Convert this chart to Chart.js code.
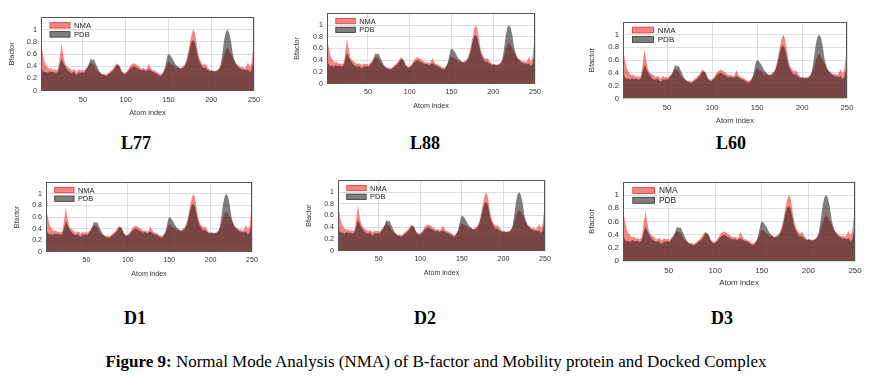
<!DOCTYPE html>
<html><head><meta charset="utf-8">
<script src="https://cdn.jsdelivr.net/npm/chart.js@4"></script>
<style>
html,body{margin:0;padding:0;background:#fff;width:871px;height:381px;overflow:hidden;}
#wrap{position:relative;width:871px;height:381px;}
canvas{position:absolute;}
.lbl{position:absolute;transform:translate(-50%,-50%);font-family:"Liberation Serif","Times New Roman",serif;font-weight:bold;font-size:18px;color:#000;white-space:nowrap;}
#cap{position:absolute;left:436px;top:362px;transform:translate(-50%,-50%);font-family:"Liberation Serif","Times New Roman",serif;font-size:17px;white-space:nowrap;color:#000;}
</style></head><body><div id="wrap"></div>
<script>
// ---- data (same profile in every panel) ----
const seriesNames = ['NMA', 'PDB'];
const panelNames = ['L77', 'L88', 'L60', 'D1', 'D2', 'D3'];
const xTickLabels = [50, 100, 150, 200, 250];
const yTickLabels = [0, 0.2, 0.4, 0.6, 0.8, 1];
const nmaValues = [
  0.78,0.62,0.48,0.42,0.38,0.36,0.37,0.34,0.35,0.33,
  0.36,0.55,0.77,0.58,0.45,0.40,0.38,0.36,0.33,0.35,
  0.34,0.31,0.35,0.33,0.34,0.32,0.36,0.38,0.42,0.46,
  0.44,0.42,0.36,0.33,0.30,0.29,0.27,0.28,0.26,0.28,
  0.31,0.33,0.36,0.40,0.45,0.42,0.38,0.32,0.30,0.29,
  0.31,0.35,0.40,0.43,0.45,0.44,0.42,0.40,0.38,0.36,
  0.37,0.35,0.36,0.44,0.38,0.34,0.33,0.32,0.30,0.28,
  0.27,0.29,0.33,0.38,0.46,0.47,0.44,0.42,0.40,0.37,
  0.39,0.36,0.38,0.40,0.43,0.50,0.62,0.78,0.92,1.00,
  0.94,0.76,0.58,0.50,0.45,0.42,0.44,0.40,0.36,0.33,
  0.32,0.33,0.31,0.34,0.36,0.40,0.48,0.58,0.66,0.70,
  0.66,0.60,0.55,0.50,0.44,0.42,0.40,0.38,0.39,0.36,
  0.40,0.46,0.38,0.45,0.70
];
const pdbValues = [
  0.42,0.33,0.30,0.31,0.29,0.32,0.30,0.31,0.30,0.29,
  0.32,0.42,0.53,0.46,0.40,0.36,0.32,0.30,0.29,0.31,
  0.28,0.26,0.30,0.29,0.30,0.29,0.33,0.37,0.44,0.52,
  0.50,0.51,0.44,0.38,0.32,0.28,0.26,0.25,0.24,0.26,
  0.28,0.30,0.33,0.36,0.41,0.43,0.40,0.32,0.28,0.27,
  0.29,0.32,0.36,0.38,0.40,0.39,0.37,0.36,0.34,0.33,
  0.34,0.32,0.33,0.35,0.33,0.31,0.30,0.29,0.27,0.25,
  0.24,0.27,0.33,0.45,0.58,0.60,0.56,0.52,0.46,0.42,
  0.39,0.37,0.36,0.37,0.40,0.46,0.56,0.70,0.80,0.83,
  0.78,0.65,0.52,0.45,0.40,0.37,0.38,0.35,0.33,0.32,
  0.34,0.31,0.33,0.32,0.35,0.42,0.60,0.82,0.96,1.00,
  0.95,0.82,0.62,0.50,0.44,0.40,0.37,0.36,0.34,0.35,
  0.33,0.35,0.30,0.33,0.46
];
const atomIndex = nmaValues.map((_, i) => 1 + 2 * i);

// ---- layout (page pixel positions of each panel's plot box) ----
const panelBoxes = [
  {l:41,  r:254, t:17,  b:91,  ty:12,  lx:136, ly:143},
  {l:327, r:535, t:13,  b:84,  ty:297, lx:425, ly:143},
  {l:623, r:847, t:21,  b:98,  ty:592, lx:731, ly:143},
  {l:46,  r:252, t:182, b:252, ty:17,  lx:135, ly:318},
  {l:338, r:545, t:180, b:251, ty:309, lx:425, ly:318},
  {l:623, r:855, t:181, b:261, ty:592, lx:722, ly:318}
];
const NMA_FILL = 'rgba(240,30,30,0.55)';
const PDB_FILL = 'rgba(20,20,20,0.55)';

const innerLegend = {
  id: 'innerLegend',
  afterDraw(chart, args, opts) {
    const {ctx, chartArea: a} = chart;
    const s = opts.fs / 7.3;
    ctx.save();
    ctx.strokeStyle = '#555';
    ctx.lineWidth = 1;
    ctx.strokeRect(Math.round(a.left) + 0.5, Math.round(a.top) + 0.5,
                   Math.round(a.right) - Math.round(a.left) - 1, Math.round(a.bottom) - Math.round(a.top) - 1);
    const items = [
      {name: seriesNames[0], fill: NMA_FILL, stroke: 'rgba(225,40,40,0.9)'},
      {name: seriesNames[1], fill: PDB_FILL, stroke: '#333'}
    ];
    const sx = a.left + 9 * s, sw = 20 * s, sh = 5.5 * s;
    items.forEach((it, i) => {
      const cy = a.top + 8 * s + i * 9 * s;
      ctx.fillStyle = '#fff';
      ctx.fillRect(sx, cy - sh / 2, sw, sh);
      ctx.fillStyle = it.fill;
      ctx.fillRect(sx, cy - sh / 2, sw, sh);
      ctx.strokeStyle = it.stroke;
      ctx.lineWidth = 0.8;
      ctx.strokeRect(sx, cy - sh / 2, sw, sh);
      ctx.fillStyle = '#222';
      ctx.font = (opts.fs * 1.05) + 'px "Liberation Sans", Arial, sans-serif';
      ctx.textBaseline = 'middle';
      ctx.textAlign = 'left';
      ctx.fillText(it.name, sx + sw + 4 * s, cy + 0.5);
    });
    ctx.restore();
  }
};

const wrap = document.getElementById('wrap');
panelBoxes.forEach((p, k) => {
  const fs = 7.3 * (p.r - p.l) / 213;
  const lh = fs * 1.2;
  const yW = (p.l - p.ty) + lh / 2;
  const xH = 22 + lh / 2;
  const cl = p.l - 45, ct = p.t - 8;
  const cw = (p.r - p.l) + 45 + 16;
  const ch = (p.b - p.t) + 8 + xH;
  const cv = document.createElement('canvas');
  cv.width = Math.round(cw); cv.height = Math.round(ch);
  cv.style.left = cl + 'px'; cv.style.top = ct + 'px';
  cv.style.width = Math.round(cw) + 'px'; cv.style.height = Math.round(ch) + 'px';
  wrap.appendChild(cv);
  const font = {family: '"Liberation Sans", Arial, sans-serif', size: fs};
  new Chart(cv, {
    type: 'line',
    data: {
      datasets: [
        {label: seriesNames[0], data: atomIndex.map((x, i) => ({x, y: nmaValues[i]})),
         backgroundColor: NMA_FILL, borderWidth: 0, fill: 'origin', pointRadius: 0, order: 1},
        {label: seriesNames[1], data: atomIndex.map((x, i) => ({x, y: pdbValues[i]})),
         backgroundColor: PDB_FILL, borderWidth: 0, fill: 'origin', pointRadius: 0, order: 0}
      ]
    },
    options: {
      responsive: false, animation: false, devicePixelRatio: 1,
      layout: {padding: {left: 45 - yW, top: 8, right: 16, bottom: 0}},
      plugins: {legend: {display: false}, tooltip: {enabled: false}, innerLegend: {fs}},
      scales: {
        x: {
          type: 'linear', min: 1, max: 250,
          afterBuildTicks: s => { s.ticks = xTickLabels.map(v => ({value: v})); },
          afterFit: s => { s.height = xH; },
          grid: {color: '#d6d6d6', lineWidth: 0.8, drawTicks: false},
          border: {display: false},
          ticks: {font, color: '#333', padding: 4.5, maxRotation: 0, autoSkip: false},
          title: {display: true, text: 'Atom index', font, color: '#333', padding: 0}
        },
        y: {
          min: 0, max: 1.2,
          afterBuildTicks: s => { s.ticks = yTickLabels.map(v => ({value: v})); },
          afterFit: s => { s.width = yW; },
          grid: {color: '#d6d6d6', lineWidth: 0.8, drawTicks: false},
          border: {display: false},
          ticks: {font, color: '#333', padding: 4, callback: v => String(v)},
          title: {display: true, text: 'Bfactor', font, color: '#333', padding: 0}
        }
      }
    },
    plugins: [innerLegend]
  });
  const lb = document.createElement('div');
  lb.className = 'lbl';
  lb.style.left = p.lx + 'px'; lb.style.top = p.ly + 'px';
  lb.textContent = panelNames[k];
  wrap.appendChild(lb);
});
const cap = document.createElement('div');
cap.id = 'cap';
cap.innerHTML = '<b>Figure 9:</b> Normal Mode Analysis (NMA) of B-factor and Mobility protein and Docked Complex';
wrap.appendChild(cap);
</script>
</body></html>
